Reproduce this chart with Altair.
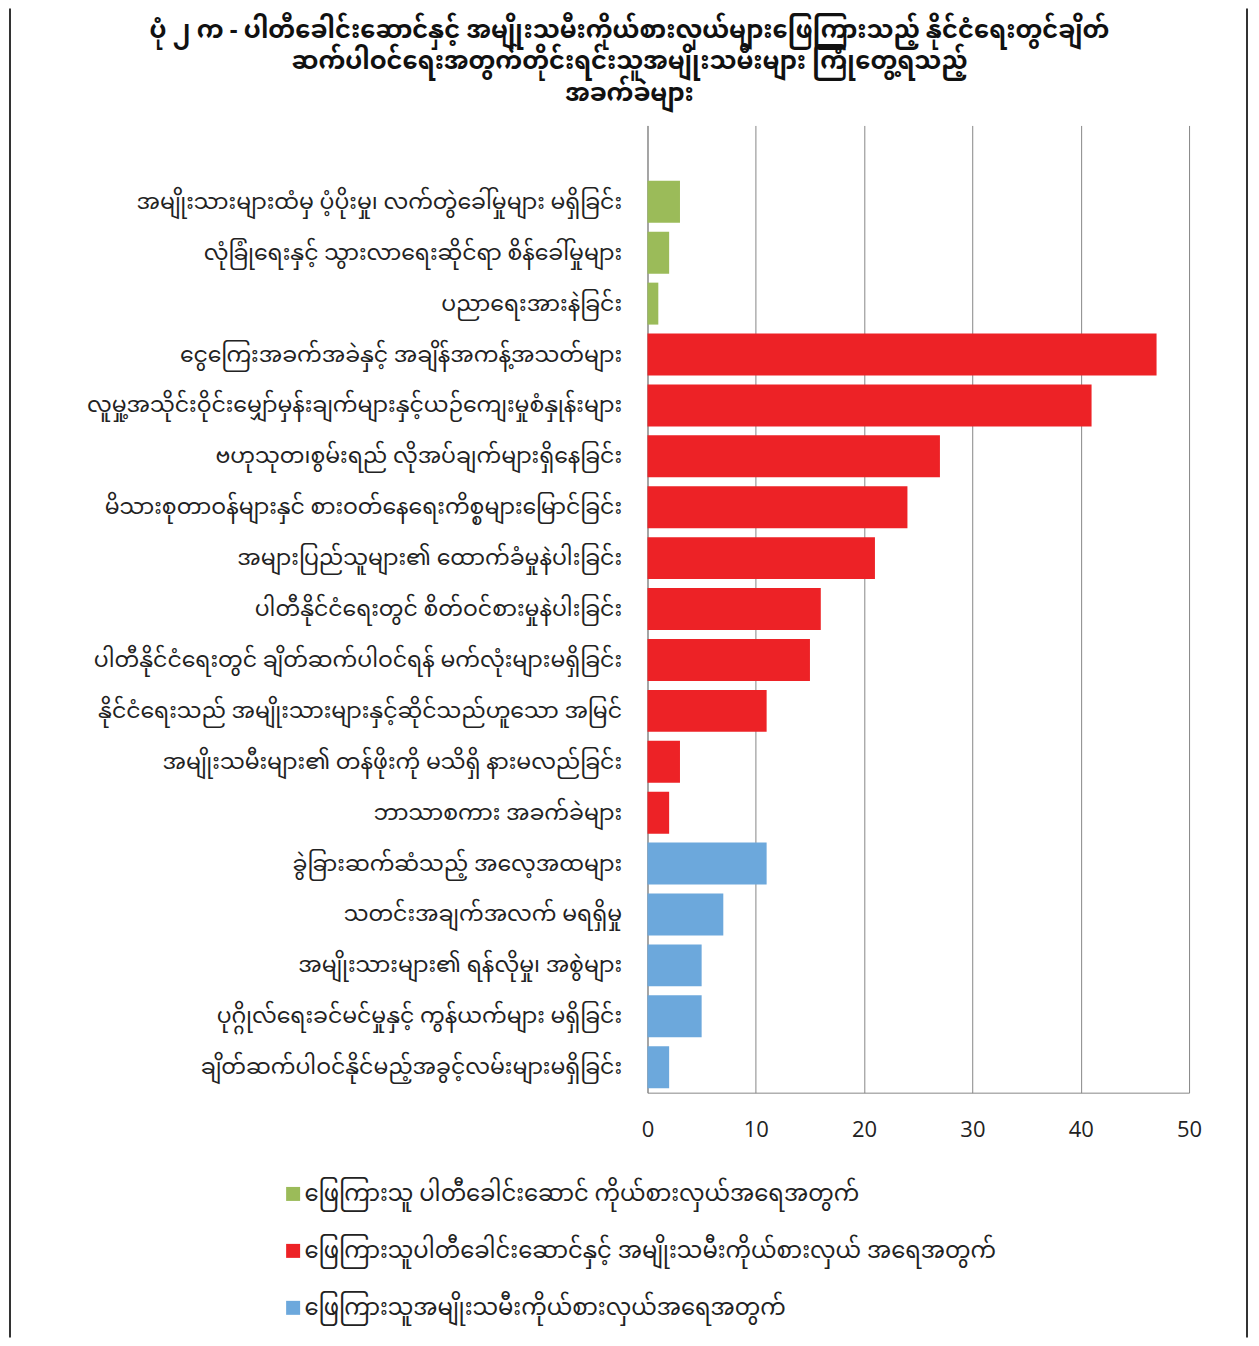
import altair as alt
import pandas as pd

labels = [
    "အမျိုးသားများထံမှ ပံ့ပိုးမှု၊ လက်တွဲခေါ်မှုများ မရှိခြင်း",
    "လုံခြုံရေးနှင့် သွားလာရေးဆိုင်ရာ စိန်ခေါ်မှုများ",
    "ပညာရေးအားနဲခြင်း",
    "ငွေကြေးအခက်အခဲနှင့် အချိန်အကန့်အသတ်များ",
    "လူမှု့အသိုင်းဝိုင်းမျှော်မှန်းချက်များနှင့်ယဉ်ကျေးမှုစံနှုန်းများ",
    "ဗဟုသုတ၊စွမ်းရည် လိုအပ်ချက်များရှိနေခြင်း",
    "မိသားစုတာဝန်များနှင် စားဝတ်နေရေးကိစ္စများမြောင်ခြင်း",
    "အများပြည်သူများ၏ ထောက်ခံမှုနဲပါးခြင်း",
    "ပါတီနိုင်ငံရေးတွင် စိတ်ဝင်စားမှုနဲပါးခြင်း",
    "ပါတီနိုင်ငံရေးတွင် ချိတ်ဆက်ပါဝင်ရန် မက်လုံးများမရှိခြင်း",
    "နိုင်ငံရေးသည် အမျိုးသားများနှင့်ဆိုင်သည်ဟူသော အမြင်",
    "အမျိုးသမီးများ၏ တန်ဖိုးကို မသိရှိ နားမလည်ခြင်း",
    "ဘာသာစကား အခက်ခဲများ",
    "ခွဲခြားဆက်ဆံသည့် အလေ့အထများ",
    "သတင်းအချက်အလက် မရရှိမှု",
    "အမျိုးသားများ၏ ရန်လိုမှု၊ အစွဲများ",
    "ပုဂ္ဂိုလ်ရေးခင်မင်မှုနှင့် ကွန်ယက်များ မရှိခြင်း",
    "ချိတ်ဆက်ပါဝင်နိုင်မည့်အခွင့်လမ်းများမရှိခြင်း",
]

green_values = [3, 2, 1]
red_values = [47, 41, 27, 24, 21, 16, 15, 11, 3, 2]
blue_values = [11, 7, 5, 5, 2]

series_names = [
    "ဖြေကြားသူ ပါတီခေါင်းဆောင် ကိုယ်စားလှယ်အရေအတွက်",
    "ဖြေကြားသူပါတီခေါင်းဆောင်နှင့် အမျိုးသမီးကိုယ်စားလှယ် အရေအတွက်",
    "ဖြေကြားသူအမျိုးသမီးကိုယ်စားလှယ်အရေအတွက်",
]
series_colors = ["#9BBB59", "#ED2226", "#6CA8DC"]

title_lines = [
    "ပုံ ၂ က - ပါတီခေါင်းဆောင်နှင့် အမျိုးသမီးကိုယ်စားလှယ်များဖြေကြားသည့် နိုင်ငံရေးတွင်ချိတ်",
    "ဆက်ပါဝင်ရေးအတွက်တိုင်းရင်းသူအမျိုးသမီးများ ကြုံတွေ့ရသည့်",
    "အခက်ခဲများ",
]

x_ticks = [0, 10, 20, 30, 40, 50]

values = green_values + red_values + blue_values
series = ([series_names[0]] * len(green_values)
          + [series_names[1]] * len(red_values)
          + [series_names[2]] * len(blue_values))
df = pd.DataFrame({"label": labels, "value": values, "series": series})

FONT = "Noto Sans Myanmar, Padauk, Myanmar Text, Noto Sans, DejaVu Sans, sans-serif"
GRID = "#878787"

bars = alt.Chart(df).mark_bar().encode(
    x=alt.X("value:Q",
            scale=alt.Scale(domain=[0, 50], nice=False),
            axis=alt.Axis(values=x_ticks, title=None, grid=True, gridColor=GRID,
                          gridWidth=1, gridOpacity=1, ticks=False, domainColor=GRID,
                          labelFontSize=22, labelPadding=27, labelColor="#222222",
                          labelFont="Open Sans", labelFlush=False)),
    y=alt.Y("label:N",
            scale=alt.Scale(domain=[""] + labels, paddingInner=0.176, paddingOuter=0.088),
            sort=None,
            axis=alt.Axis(title=None, ticks=False, domainColor=GRID, labelFontSize=22,
                          labelPadding=26, labelLimit=0, labelColor="#222222",
                          labelFont=FONT)),
    color=alt.Color("series:N",
                    scale=alt.Scale(domain=series_names, range=series_colors),
                    legend=alt.Legend(title=None, orient="none", legendX=-366, legendY=1058,
                                      symbolType="square", symbolSize=196,
                                      symbolStrokeWidth=0, labelFontSize=22.7,
                                      labelFont=FONT, labelLimit=0, labelOffset=0,
                                      rowPadding=33, labelColor="#222222")),
)

frame_data = alt.Data(values=[{"k": 1}])
left_frame = alt.Chart(frame_data).mark_rule(color="#333333", strokeWidth=2).encode(
    x=alt.value(-638), y=alt.value(-117), y2=alt.value(1213))
right_frame = alt.Chart(frame_data).mark_rule(color="#333333", strokeWidth=2).encode(
    x=alt.value(600), y=alt.value(-117), y2=alt.value(1213))

title_layers = []
for i, line in enumerate(title_lines):
    title_layers.append(
        alt.Chart(frame_data).mark_text(
            fontSize=24.2, fontWeight="bold", font=FONT, color="#111111",
            align="center", baseline="middle",
        ).encode(x=alt.value(-18), y=alt.value(-95 + 32 * i), text=alt.value(line))
    )

chart = alt.layer(bars, left_frame, right_frame, *title_layers).properties(
    width=542,
    height=968,
    autosize=alt.AutoSizeParams(type="none"),
    padding={"left": 640, "top": 117, "right": 62, "bottom": 245},
).configure_view(strokeWidth=0)

chart.save("out.html", embed_options={"renderer": "svg", "actions": False})
